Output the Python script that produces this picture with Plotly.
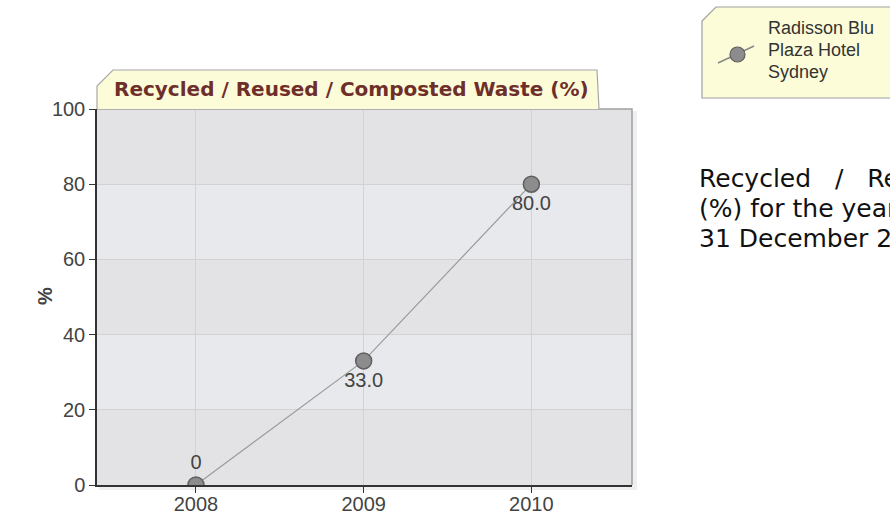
import plotly.graph_objects as go

years = ["2008", "2009", "2010"]
values = [0, 33.0, 80.0]
labels = ["0", "33.0", "80.0"]
label_pos = ["top center", "bottom center", "bottom center"]
y_ticks = [0, 20, 40, 60, 80, 100]
y_title = "%"
chart_title = "Recycled / Reused / Composted Waste (%)"
series_lines = ["Radisson Blu", "Plaza Hotel", "Sydney"]
desc_lines = ["Recycled   /   Reused   /   Composted   Waste",
              "(%) for the year ended",
              "31 December 2010"]

W, H = 890, 519
L, R, T, B = 97, 632, 109, 485


def px(x):
    return (x - L) / (R - L)


def py(y):
    return (B - y) / (B - T)


fig = go.Figure()
fig.add_trace(go.Scatter(
    x=list(range(len(years))), y=values, mode="lines+markers+text",
    text=labels, textposition=label_pos,
    textfont=dict(family="Liberation Sans, Arial", size=20, color="#444444"),
    line=dict(color="#9a9a9a", width=1.2),
    marker=dict(size=16, color="#8c8c8c", line=dict(color="#5f5f5f", width=1.5)),
    showlegend=False, cliponaxis=True, hoverinfo="skip",
))

shapes = []
# shadow around plot area
shapes.append(dict(type="rect", xref="paper", yref="paper",
                   x0=px(L + 2), x1=px(R + 5), y0=py(B + 5), y1=py(T + 2),
                   fillcolor="#efefef", line=dict(width=0), layer="below"))
shapes.append(dict(type="rect", xref="paper", yref="paper",
                   x0=0, x1=1, y0=0, y1=1,
                   fillcolor="#e3e3e5", line=dict(width=0), layer="below"))
# alternating bands
for i in range(1, len(y_ticks) - 1, 2):
    shapes.append(dict(type="rect", xref="paper", yref="y",
                       x0=0, x1=1, y0=y_ticks[i], y1=y_ticks[i + 1],
                       fillcolor="#e7e9ec", line=dict(width=0), layer="below"))
# plot border (top/right grey)
shapes.append(dict(type="path", xref="paper", yref="paper",
                   path="M 0 1 L 1 1 L 1 0",
                   line=dict(color="#a0a0a0", width=1.5), layer="above"))
# title tab
tab = [(L, T), (L, 86), (113, 70), (597, 70), (599, T)]
path = "M " + " L ".join(f"{px(a):.5f} {py(b):.5f}" for a, b in tab)
shapes.append(dict(type="path", xref="paper", yref="paper", path=path,
                   fillcolor="#fdfcd8", line=dict(color="#a8a8a8", width=1.2),
                   layer="above"))
# legend box
lb = [(702, 98), (702, 21), (716, 7), (900, 7), (900, 98), (702, 98)]
path = "M " + " L ".join(f"{px(a):.5f} {py(b):.5f}" for a, b in lb) + " Z"
shapes.append(dict(type="path", xref="paper", yref="paper", path=path,
                   fillcolor="#fdfcd8", line=dict(color="#a0a0a0", width=1.2)))
# legend icon
shapes.append(dict(type="line", xref="paper", yref="paper",
                   x0=px(718), y0=py(63), x1=px(754), y1=py(46),
                   line=dict(color="#888888", width=1.5)))
shapes.append(dict(type="circle", xref="paper", yref="paper",
                   x0=px(730), x1=px(745), y0=py(62), y1=py(47),
                   fillcolor="#8c8c8c", line=dict(color="#5f5f5f", width=1.2)))

annotations = [
    dict(text=f"<b>{chart_title}</b>", xref="paper", yref="paper",
         x=px(112), y=py(89), xanchor="left", yanchor="middle", showarrow=False,
         font=dict(family="DejaVu Sans", size=20, color="#6e2f2a")),
    dict(text=f"<b>{y_title}</b>", xref="paper", yref="paper",
         x=px(45), y=py(296), xanchor="center", yanchor="middle", showarrow=False,
         textangle=-90,
         font=dict(family="Liberation Sans, Arial", size=20, color="#444444")),
]
for i, line in enumerate(series_lines):
    annotations.append(dict(text=line, xref="paper", yref="paper",
                            x=px(766), y=py(28 + 22 * i), xanchor="left",
                            yanchor="middle", showarrow=False,
                            font=dict(family="Liberation Sans, Arial", size=18,
                                      color="#333333")))
for i, line in enumerate(desc_lines):
    annotations.append(dict(text=line, xref="paper", yref="paper",
                            x=px(697), y=py(178 + 30 * i), xanchor="left",
                            yanchor="middle", showarrow=False,
                            font=dict(family="DejaVu Sans", size=25, color="#111111")))

fig.update_layout(
    width=W, height=H,
    margin=dict(l=L, r=W - R, t=T, b=H - B, pad=0),
    paper_bgcolor="white", plot_bgcolor="rgba(0,0,0,0)",
    shapes=shapes, annotations=annotations,
    xaxis=dict(range=[-0.59, 2.6], tickvals=list(range(len(years))), ticktext=years,
               showgrid=True, gridcolor="#d2d2d2", gridwidth=1,
               showline=True, linecolor="#333333", linewidth=2,
               ticks="outside", ticklen=6, tickcolor="#333333",
               ticklabelstandoff=-6,
               tickfont=dict(family="Liberation Sans, Arial", size=20, color="#444444"),
               zeroline=False, fixedrange=True, automargin=False),
    yaxis=dict(range=[0, 100], tickvals=y_ticks,
               showgrid=True, gridcolor="#d2d2d2", gridwidth=1,
               showline=True, linecolor="#333333", linewidth=1.5,
               ticks="outside", ticklen=6, tickcolor="#333333",
               tickfont=dict(family="Liberation Sans, Arial", size=20, color="#444444"),
               zeroline=False, fixedrange=True, automargin=False),
)

fig.write_html(
    "out.html",
    config={"displayModeBar": False},
    post_script="document.body.style.margin='0';document.body.style.overflow='hidden';",
)
